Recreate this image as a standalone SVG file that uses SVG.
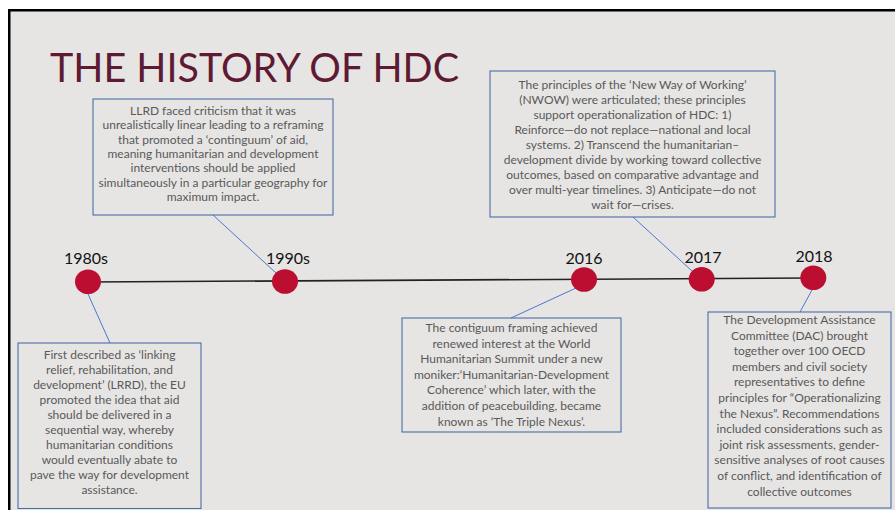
<svg xmlns="http://www.w3.org/2000/svg" width="895" height="510" viewBox="0 0 895 510">
<style>
.bg{fill:#e6e5e4;stroke:#000;stroke-width:2.5}
.title{font-family:Lato,"Open Sans","Liberation Sans",sans-serif;font-size:41px;fill:#5e1a32}
.box{fill:none;stroke:#4a6ea8;stroke-width:1.1}
.body{font-family:Lato,"Open Sans","Liberation Sans",sans-serif;font-size:12px;fill:#595959;text-anchor:middle}
.year{font-family:Lato,"Open Sans","Liberation Sans",sans-serif;font-size:16px;fill:#111;text-anchor:middle}
.dot{fill:#bc0e31}
.conn{stroke:#4a78d0;stroke-width:1;fill:none}
.axis{stroke:#222;stroke-width:1.6;fill:none}
</style>
<rect x="0" y="0" width="895" height="510" fill="#fff"/>
<rect class="bg" x="9.25" y="10.25" width="900" height="520"/>
<text class="title" x="50" y="82" textLength="409" lengthAdjust="spacingAndGlyphs">THE HISTORY OF HDC</text>

<g id="connectors">
<line class="axis" x1="88" y1="282" x2="813" y2="278"/>
<line class="conn" x1="88" y1="294" x2="110" y2="343"/>
<line class="conn" x1="213" y1="215" x2="276" y2="273"/>
<line class="conn" x1="633" y1="217" x2="692" y2="271"/>
<line class="conn" x1="576" y1="288" x2="511" y2="318"/>
<line class="conn" x1="812" y1="290" x2="800" y2="312"/>
</g>

<g id="t1980">
<ellipse class="dot" cx="88" cy="281.7" rx="13" ry="12.3"/>
<text class="year" x="86" y="264">1980s</text>
</g>
<g id="t1990">
<ellipse class="dot" cx="285" cy="281.5" rx="13" ry="12.3"/>
<text class="year" x="288" y="264">1990s</text>
</g>
<g id="t2016">
<ellipse class="dot" cx="584" cy="279.5" rx="13" ry="12.3"/>
<text class="year" x="584" y="264">2016</text>
</g>
<g id="t2017">
<ellipse class="dot" cx="701.7" cy="279.3" rx="13" ry="12.3"/>
<text class="year" x="703" y="263">2017</text>
</g>
<g id="t2018">
<ellipse class="dot" cx="813.3" cy="277.7" rx="13" ry="12.3"/>
<text class="year" x="814" y="262">2018</text>
</g>

<g id="box-lrrd-critique">
<rect class="box" x="93" y="99" width="240" height="116"/>
<text class="body" x="213" y="115">LLRD faced criticism that it was</text>
<text class="body" x="213" y="129.3">unrealistically linear leading to a reframing</text>
<text class="body" x="213" y="143.6">that promoted a ‘continguum’ of aid,</text>
<text class="body" x="213" y="157.9">meaning humanitarian and development</text>
<text class="body" x="213" y="172.2">interventions should be applied</text>
<text class="body" x="213" y="186.5">simultaneously in a particular geography for</text>
<text class="body" x="213" y="200.8">maximum impact.</text>
</g>

<g id="box-nwow">
<rect class="box" x="490" y="71" width="285" height="146"/>
<text class="body" x="632.5" y="88.5">The principles of the ‘New Way of Working’</text>
<text class="body" x="632.5" y="103.5">(NWOW) were articulated; these principles</text>
<text class="body" x="632.5" y="118.5">support operationalization of HDC: 1)</text>
<text class="body" x="632.5" y="133.5">Reinforce—do not replace—national and local</text>
<text class="body" x="632.5" y="148.5">systems. 2) Transcend the humanitarian–</text>
<text class="body" x="632.5" y="163.5">development divide by working toward collective</text>
<text class="body" x="632.5" y="178.5">outcomes, based on comparative advantage and</text>
<text class="body" x="632.5" y="193.5">over multi-year timelines. 3) Anticipate—do not</text>
<text class="body" x="632.5" y="208.5">wait for—crises.</text>
</g>

<g id="box-lrrd">
<rect class="box" x="18" y="343" width="183" height="165.5"/>
<text class="body" x="109.5" y="359">First described as ‘linking</text>
<text class="body" x="109.5" y="374">relief, rehabilitation, and</text>
<text class="body" x="109.5" y="389">development’ (LRRD), the EU</text>
<text class="body" x="109.5" y="404">promoted the idea that aid</text>
<text class="body" x="109.5" y="419">should be delivered in a</text>
<text class="body" x="109.5" y="434">sequential way, whereby</text>
<text class="body" x="109.5" y="449">humanitarian conditions</text>
<text class="body" x="109.5" y="464">would eventually abate to</text>
<text class="body" x="109.5" y="479">pave the way for development</text>
<text class="body" x="109.5" y="494">assistance.</text>
</g>

<g id="box-whs">
<rect class="box" x="402" y="318" width="219" height="114"/>
<text class="body" x="511.5" y="332">The contiguum framing achieved</text>
<text class="body" x="511.5" y="347.6">renewed interest at the World</text>
<text class="body" x="511.5" y="363.2">Humanitarian Summit under a new</text>
<text class="body" x="511.5" y="378.8">moniker:‘Humanitarian-Development</text>
<text class="body" x="511.5" y="394.4">Coherence’ which later, with the</text>
<text class="body" x="511.5" y="410">addition of peacebuilding, became</text>
<text class="body" x="511.5" y="425.6">known as ‘The Triple Nexus’.</text>
</g>

<g id="box-dac">
<rect class="box" x="708" y="312" width="183" height="196"/>
<text class="body" x="799.5" y="324">The Development Assistance</text>
<text class="body" x="799.5" y="339.6">Committee (DAC) brought</text>
<text class="body" x="799.5" y="355.2">together over 100 OECD</text>
<text class="body" x="799.5" y="370.8">members and civil society</text>
<text class="body" x="799.5" y="386.4">representatives to define</text>
<text class="body" x="799.5" y="402">principles for “Operationalizing</text>
<text class="body" x="799.5" y="417.6">the Nexus”. Recommendations</text>
<text class="body" x="799.5" y="433.2">included considerations such as</text>
<text class="body" x="799.5" y="448.8">joint risk assessments, gender-</text>
<text class="body" x="799.5" y="464.4">sensitive analyses of root causes</text>
<text class="body" x="799.5" y="480">of conflict, and identification of</text>
<text class="body" x="799.5" y="495.6">collective outcomes</text>
</g>
</svg>
